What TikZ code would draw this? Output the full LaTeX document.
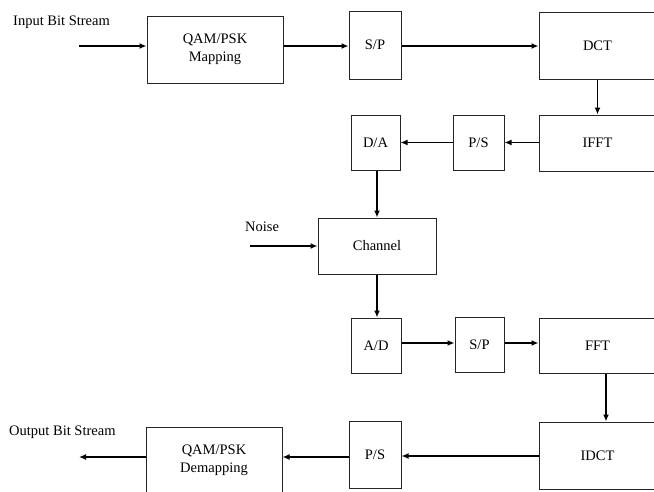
\documentclass[tikz,border=0pt]{standalone}
\usepackage{fontspec}
\setmainfont{Liberation Serif}
\usetikzlibrary{arrows.meta}
\begin{document}
\begin{tikzpicture}[x=1pt,y=-1pt,
  box/.style={draw=black!85, line width=1pt, inner sep=0pt, align=center,
    font=\fontsize{14.5}{17.5}\selectfont},
  lbl/.style={inner sep=0pt, anchor=base west, font=\fontsize{14.5}{17.5}\selectfont},
  arr/.style={draw=black, line width=1.4pt, -{Latex[length=7pt,width=6pt]}}]
\useasboundingbox (0,0) rectangle (654,491);
\clip (0,0) rectangle (654,491);
\fill[white] (0,0) rectangle (654,491);
% boxes
\node[box, minimum width=136pt, minimum height=67pt] (qam1) at (215,49.5) {QAM/PSK\\Mapping};
\node[box, minimum width=52pt, minimum height=68pt] (sp1) at (375,45) {S/P};
\node[box, minimum width=117pt, minimum height=67pt] (dct) at (597.5,45.5) {DCT};
\node[box, minimum width=117pt, minimum height=56pt] (ifft) at (597.5,143) {IFFT};
\node[box, minimum width=51pt, minimum height=55pt] (ps1) at (478.5,142.5) {P/S};
\node[box, minimum width=49pt, minimum height=55pt] (da) at (375.5,142.5) {D/A};
\node[box, minimum width=118pt, minimum height=56pt] (chan) at (377,246) {Channel};
\node[box, minimum width=50pt, minimum height=55pt] (ad) at (376,345.5) {A/D};
\node[box, minimum width=49pt, minimum height=55pt] (sp2) at (479.5,344.5) {S/P};
\node[box, minimum width=117pt, minimum height=55pt] (fft) at (597.5,345.5) {FFT};
\node[box, minimum width=117pt, minimum height=67pt] (idct) at (597.5,455.5) {IDCT};
\node[box, minimum width=52pt, minimum height=67pt] (ps2) at (375,454.5) {P/S};
\node[box, minimum width=136pt, minimum height=67pt] (qam2) at (214,460.5) {QAM/PSK\\Demapping};
% labels
\node[lbl] (inlbl) at (13,25) {Input Bit Stream};
\node[lbl] (noiselbl) at (245,231) {Noise};
\node[lbl] (outlbl) at (9,435) {Output Bit Stream};
% coordinates
\coordinate (in) at (79,46);
\coordinate (noise) at (250,246);
\coordinate (row2) at (0,343);
\coordinate (col2) at (606,0);
\coordinate (row3) at (0,456);
\coordinate (row4) at (0,457);
\coordinate (out) at (79,457);
% connectors
\draw[arr] (in) -- (in -| qam1.west);
\draw[arr] (in -| qam1.east) -- (in -| sp1.west);
\draw[arr] (in -| sp1.east) -- (in -| dct.west);
\draw[arr] (dct.south) -- (ifft.north);
\draw[arr] (ifft.west |- ps1.east) -- (ps1.east);
\draw[arr] (ps1.west) -- (da.east);
\draw[arr] (chan.north |- da.south) -- (chan.north);
\draw[arr] (noise) -- (chan.west);
\draw[arr] (chan.south) -- (chan.south |- ad.north);
\draw[arr] (row2 -| ad.east) -- (row2 -| sp2.west);
\draw[arr] (row2 -| sp2.east) -- (row2 -| fft.west);
\draw[arr] (col2 |- fft.south) -- (col2 |- idct.north);
\draw[arr] (row3 -| idct.west) -- (row3 -| ps2.east);
\draw[arr] (row4 -| ps2.west) -- (row4 -| qam2.east);
\draw[arr] (out -| qam2.west) -- (out);
\end{tikzpicture}
\end{document}
